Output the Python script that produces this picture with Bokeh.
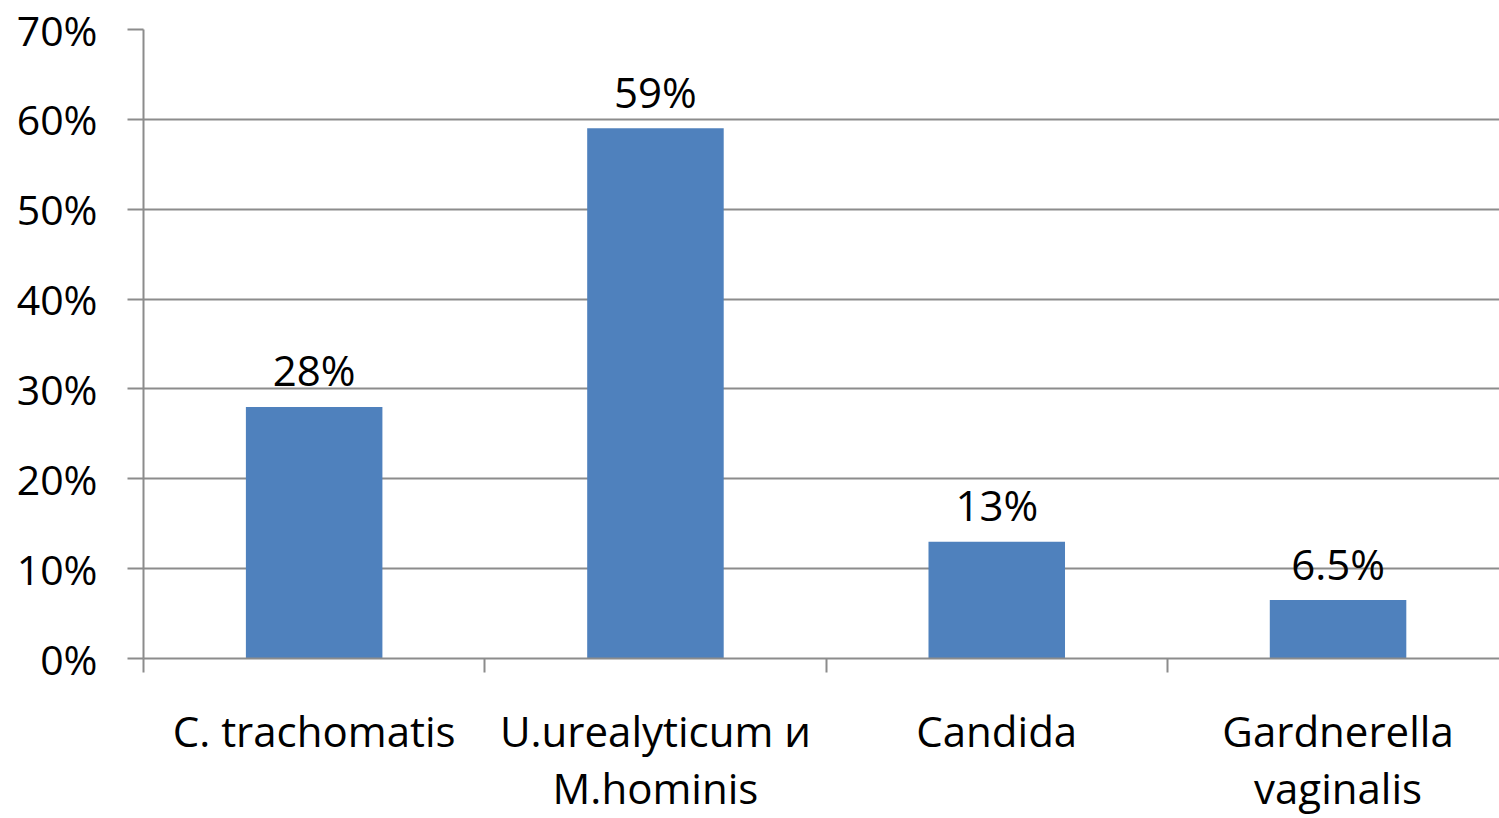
from bokeh.plotting import figure
from bokeh.models import Range1d, FixedTicker, LinearAxis
from bokeh.core.properties import value
from bokeh.embed import file_html
from bokeh.resources import INLINE

categories = ["C. trachomatis", "U.urealyticum и\nM.hominis", "Candida", "Gardnerella\nvaginalis"]
values = [28, 59, 13, 6.5]
value_labels = ["28%", "59%", "13%", "6.5%"]
y_ticks = [0, 10, 20, 30, 40, 50, 60, 70]
y_tick_labels = ["0%", "10%", "20%", "30%", "40%", "50%", "60%", "70%"]

FONT = "Open Sans"
GRAY = "#8c8c8c"

centers = [i + 0.5 for i in range(len(categories))]
bounds = [float(i) for i in range(len(categories))]

p = figure(width=1499, height=818, output_backend="svg", toolbar_location=None,
           x_range=Range1d(0, 1356 / 341.3), y_range=Range1d(0, 70),
           min_border_left=143, min_border_top=29, min_border_bottom=159,
           min_border_right=0, x_axis_location=None, y_axis_location=None)
p.outline_line_color = None
p.background_fill_color = "white"
p.border_fill_color = "white"

p.vbar(x=centers, top=values, width=0.4, bottom=0, fill_color="#4f81bd", line_color=None)
p.text(x=centers, y=values, text=value_labels, text_align="center", text_baseline="alphabetic",
       y_offset=-37, text_font=value(FONT), text_font_size="42px", text_color="black")

yaxis = LinearAxis(ticker=FixedTicker(ticks=y_ticks),
                   major_label_overrides={t: l for t, l in zip(y_ticks, y_tick_labels)})
yaxis.major_tick_out = 16
yaxis.major_tick_in = 0
yaxis.minor_tick_out = 0
yaxis.minor_tick_in = 0
yaxis.major_tick_line_color = GRAY
yaxis.major_tick_line_width = 2
yaxis.axis_line_color = GRAY
yaxis.axis_line_width = 2
yaxis.major_label_standoff = 30
yaxis.major_label_text_font = FONT
yaxis.major_label_text_font_size = "41px"
yaxis.major_label_text_color = "black"
p.add_layout(yaxis, "left")

xaxis = LinearAxis(ticker=FixedTicker(ticks=centers, minor_ticks=bounds),
                   major_label_overrides={c: l for c, l in zip(centers, categories)})
xaxis.major_tick_out = 0
xaxis.major_tick_in = 0
xaxis.minor_tick_out = 14
xaxis.minor_tick_in = 0
xaxis.minor_tick_line_color = GRAY
xaxis.minor_tick_line_width = 2
xaxis.axis_line_color = GRAY
xaxis.axis_line_width = 2
xaxis.major_label_standoff = 29
xaxis.major_label_text_font = FONT
xaxis.major_label_text_font_size = "42px"
xaxis.major_label_text_color = "black"
xaxis.major_label_text_line_height = 1.0
p.add_layout(xaxis, "below")

for g in p.grid:
    if g.dimension == 1:
        g.ticker = FixedTicker(ticks=y_ticks)
        g.grid_line_color = GRAY
        g.grid_line_width = 2
    else:
        g.grid_line_color = None

open("out.html", "w").write(file_html(p, INLINE))
